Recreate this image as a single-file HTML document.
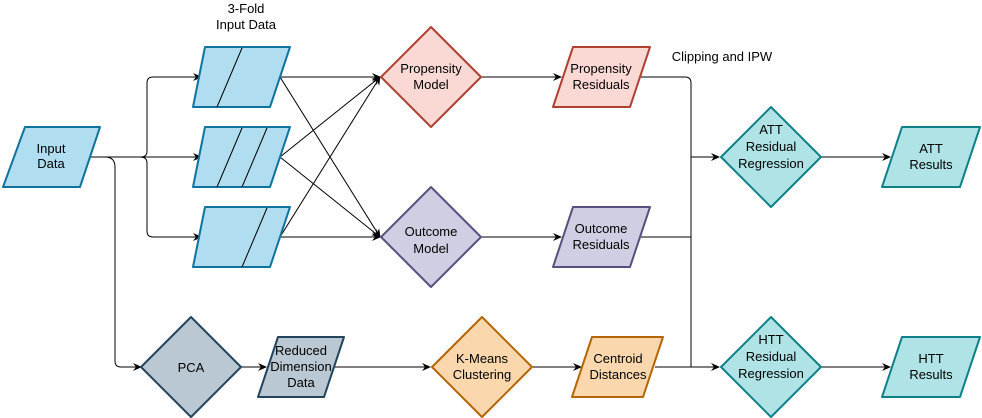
<!DOCTYPE html>
<html><head><style>body{margin:0;background:#fff}svg{display:block}text{font-family:"Liberation Sans",Arial,sans-serif;font-size:13px;fill:#000}</style></head><body>
<svg width="982" height="418" viewBox="0 0 982 418" xmlns="http://www.w3.org/2000/svg">
<defs><marker id="a" markerWidth="10" markerHeight="10" refX="8" refY="5" orient="auto" markerUnits="userSpaceOnUse"><path d="M0,1 L9,5 L0,9 L3,5 Z" fill="#000"/></marker></defs>
<g fill="none" stroke="#000" stroke-width="1">
<path d="M90,157 H141 Q147,157 147,151 V83 Q147,77 153,77 H201" marker-end="url(#a)"/>
<path d="M140,157 H201" marker-end="url(#a)"/>
<path d="M140,157 Q147,157 147,163 V231 Q147,237 153,237 H201" marker-end="url(#a)"/>
<path d="M105,157 Q115,157 115,167 V361 Q115,367 121,367 H141" marker-end="url(#a)"/>
<path d="M280,77 H380" marker-end="url(#a)"/>
<path d="M280,77 L380,237" marker-end="url(#a)"/>
<path d="M280,157 L380,77" marker-end="url(#a)"/>
<path d="M280,157 L380,237" marker-end="url(#a)"/>
<path d="M280,237 L380,77" marker-end="url(#a)"/>
<path d="M280,237 H380" marker-end="url(#a)"/>
<path d="M481,77 H561" marker-end="url(#a)"/>
<path d="M481,237 H561" marker-end="url(#a)"/>
<path d="M641,77 H685 Q691,77 691,83 V367"/>
<path d="M641,237 H691"/>
<path d="M691,157 H719" marker-end="url(#a)"/>
<path d="M691,367 H719" marker-end="url(#a)"/>
<path d="M821,157 H890" marker-end="url(#a)"/>
<path d="M821,367 H890" marker-end="url(#a)"/>
<path d="M241,367 H266" marker-end="url(#a)"/>
<path d="M335,367 H430" marker-end="url(#a)"/>
<path d="M532,367 H581" marker-end="url(#a)"/>
<path d="M655,367 H691"/>
</g>
<g stroke-width="2" stroke-linejoin="round">
<path d="M25,127 H100 L80,187 H3 Z" fill="#b1ddf0" stroke="#10739e"/>
<path d="M205,47 H290 L270,107 H193 Z" fill="#b1ddf0" stroke="#10739e"/>
<path d="M205,127 H290 L270,187 H193 Z" fill="#b1ddf0" stroke="#10739e"/>
<path d="M205,207 H290 L270,267 H193 Z" fill="#b1ddf0" stroke="#10739e"/>
<path d="M431,27 L481,77 L431,127 L381,77 Z" fill="#fad9d5" stroke="#ae4132"/>
<path d="M431,187 L481,237 L431,287 L381,237 Z" fill="#d0cee2" stroke="#56517e"/>
<path d="M573,47 H650 L630,107 H553 Z" fill="#fad9d5" stroke="#ae4132"/>
<path d="M573,207 H650 L630,267 H553 Z" fill="#d0cee2" stroke="#56517e"/>
<path d="M771,107 L821,157 L771,207 L721,157 Z" fill="#b0e3e6" stroke="#0e8088"/>
<path d="M771,317 L821,367 L771,417 L721,367 Z" fill="#b0e3e6" stroke="#0e8088"/>
<path d="M902,127 H980 L960,187 H882 Z" fill="#b0e3e6" stroke="#0e8088"/>
<path d="M902,337 H980 L960,397 H882 Z" fill="#b0e3e6" stroke="#0e8088"/>
<path d="M191,317 L241,367 L191,417 L141,367 Z" fill="#bac8d3" stroke="#23445d"/>
<path d="M278,337 H344 L324,397 H258 Z" fill="#bac8d3" stroke="#23445d"/>
<path d="M482,317 L532,367 L482,417 L432,367 Z" fill="#fad7ac" stroke="#b46504"/>
<path d="M592,337 H663 L643,397 H572 Z" fill="#fad7ac" stroke="#b46504"/>
</g>
<g stroke="#000" stroke-width="1">
<path d="M242,48 L217,107"/><path d="M242,128 L217,187"/><path d="M267,128 L242,187"/><path d="M267,208 L242,267"/>
</g>
<g text-anchor="middle">
<text x="246" y="13">3-Fold</text><text x="246" y="29">Input Data</text>
<text x="51" y="153">Input</text><text x="51" y="168">Data</text>
<text x="431" y="73">Propensity</text><text x="431" y="89">Model</text>
<text x="431" y="236">Outcome</text><text x="431" y="253">Model</text>
<text x="601" y="73">Propensity</text><text x="601" y="89">Residuals</text>
<text x="601" y="233">Outcome</text><text x="601" y="249">Residuals</text>
<text x="722" y="61">Clipping and IPW</text>
<text x="771" y="134">ATT</text><text x="771" y="151">Residual</text><text x="771" y="168">Regression</text>
<text x="771" y="344">HTT</text><text x="771" y="361">Residual</text><text x="771" y="378">Regression</text>
<text x="931" y="153">ATT</text><text x="931" y="169">Results</text>
<text x="931" y="363">HTT</text><text x="931" y="379">Results</text>
<text x="191" y="372">PCA</text>
<text x="301" y="355">Reduced</text><text x="301" y="371">Dimension</text><text x="301" y="387">Data</text>
<text x="482" y="363">K-Means</text><text x="482" y="379">Clustering</text>
<text x="618" y="363">Centroid</text><text x="618" y="379">Distances</text>
</g>
</svg>
</body></html>
